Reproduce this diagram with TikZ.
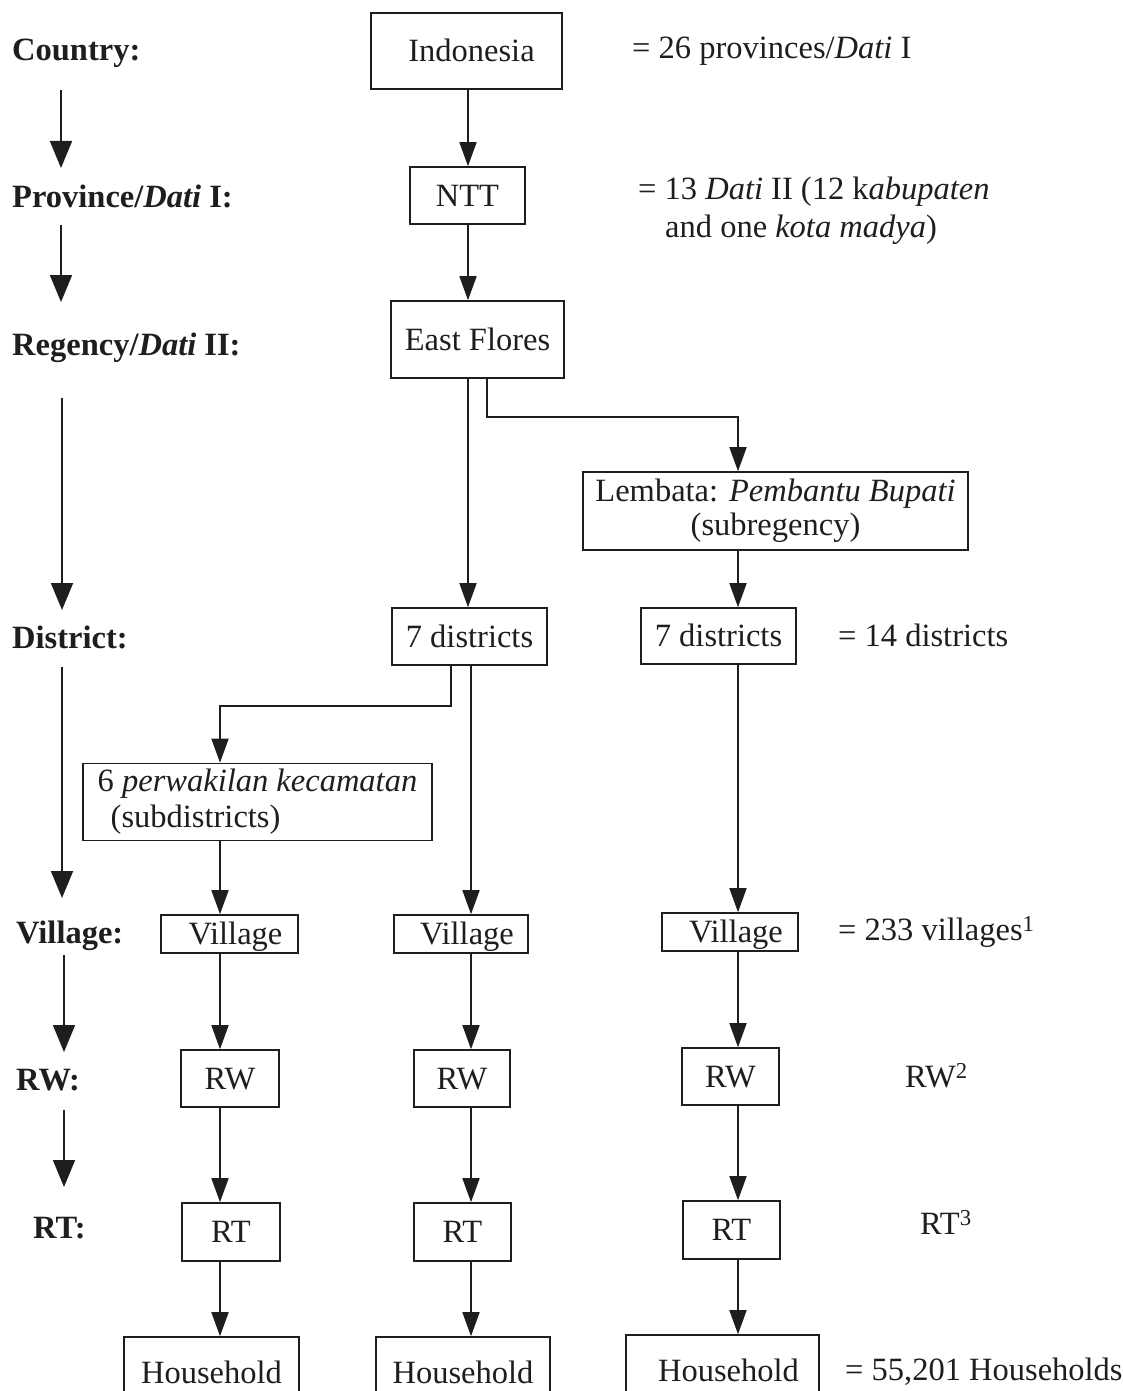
\documentclass[tikz,border=0pt]{standalone}
\usepackage{fontspec}
\setmainfont{Liberation Serif}
\usetikzlibrary{arrows.meta}
\definecolor{ink}{HTML}{1E1E1E}

\begin{document}
\begin{tikzpicture}[x=1pt,y=-1pt,
  every node/.style={font=\fontsize{32.5}{36}\selectfont, text=ink, inner sep=0pt},
  bx/.style={draw=ink, line width=1.6pt, align=center},
  one/.style={text height=25pt, text depth=4pt},
  lbl/.style={anchor=west, font=\fontsize{32.5}{36}\selectfont\bfseries, text height=25pt, text depth=4pt},
  note/.style={anchor=west, align=left, text height=25pt, text depth=4pt},
  link/.style={draw=ink, line width=1.6pt, -{Triangle[width=17pt,length=24pt]}},
  lvl/.style={draw=ink, line width=1.8pt, -{Triangle[width=22pt,length=27pt]}},
]
\clip (0,0) rectangle (1123,1391);

% ---------- level labels ----------
\node[lbl] (lc)  at (12,50)   {Country:};
\node[lbl] (lp)  at (12,197)  {Province/\textit{Dati} I:};
\node[lbl] (lr)  at (12,345)  {Regency/\textit{Dati} II:};
\node[lbl] (ld)  at (12,638)  {District:};
\node[lbl] (lv)  at (16,933)  {Village:};
\node[lbl] (lw)  at (16,1080) {RW:};
\node[lbl] (lt)  at (33,1228) {RT:};

\coordinate (a1s) at (61,90);   \coordinate (a1e) at (61,168);
\coordinate (a2s) at (61,225);  \coordinate (a2e) at (61,302);
\coordinate (a3s) at (62,398);  \coordinate (a3e) at (62,610);
\coordinate (a4s) at (62,667);  \coordinate (a4e) at (62,898);
\coordinate (a5s) at (64,955);  \coordinate (a5e) at (64,1052);
\coordinate (a6s) at (64,1110); \coordinate (a6e) at (64,1187);
\foreach \i in {1,...,6} \draw[lvl] (a\i s) -- (a\i e);

% ---------- boxes ----------
\node[bx,one,minimum width=191pt,minimum height=76pt] (ind) at (466.5,51)   {\hspace{10pt}Indonesia};
\node[bx,one,minimum width=115pt,minimum height=57pt] (ntt) at (467.5,195.5) {NTT};
\node[bx,one,minimum width=173pt,minimum height=77pt] (ef)  at (477.5,339.5) {East Flores};
\node[bx,minimum width=385pt,minimum height=78pt,font=\fontsize{32.5}{34}\selectfont] (lem) at (775.5,511)
  {Lembata: \textit{Pembantu Bupati}\\(subregency)};
\node[bx,one,minimum width=155pt,minimum height=57pt] (d1) at (469.5,636.5) {7 districts};
\node[bx,one,minimum width=155pt,minimum height=56pt] (d2) at (718.5,636)   {7 districts};
\node[bx,align=left,minimum width=349pt,minimum height=77pt,font=\fontsize{32.5}{36}\selectfont] (pk) at (257.5,802)
  {6 \textit{perwakilan kecamatan}\\\hspace{13pt}(subdistricts)\hspace{130pt}};
\node[bx,one,minimum width=137pt,minimum height=38pt] (v1) at (229.5,934) {\hspace{12pt}Village};
\node[bx,one,minimum width=134pt,minimum height=38pt] (v2) at (461,934)   {\hspace{12pt}Village};
\node[bx,one,minimum width=136pt,minimum height=38pt] (v3) at (730,932)   {\hspace{12pt}Village};
\node[bx,one,minimum width=98pt,minimum height=57pt] (rw1) at (230,1078.5)   {RW};
\node[bx,one,minimum width=96pt,minimum height=57pt] (rw2) at (462,1078.5)   {RW};
\node[bx,one,minimum width=97pt,minimum height=57pt] (rw3) at (730.5,1076.5) {RW};
\node[bx,one,minimum width=98pt,minimum height=58pt] (rt1) at (231,1232)     {RT};
\node[bx,one,minimum width=97pt,minimum height=58pt] (rt2) at (462.5,1232)   {RT};
\node[bx,one,minimum width=97pt,minimum height=58pt] (rt3) at (731.5,1230)   {RT};
\node[bx,one,minimum width=175pt,minimum height=72pt] (hh1) at (211.5,1373) {Household};
\node[bx,one,minimum width=174pt,minimum height=72pt] (hh2) at (463,1373)   {Household};
\node[bx,one,minimum width=193pt,minimum height=72pt] (hh3) at (722.5,1371) {\hspace{12pt}Household};

% ---------- notes on the right ----------
\node[note] (n1) at (632,48) {= 26 provinces/\textit{Dati} I};
\node[anchor=north west,align=left,font=\fontsize{32.5}{38}\selectfont] (n2) at (638,177)
  {= 13 \textit{Dati} II (12 k\textit{abupaten}\\\hspace{27pt}and one \textit{kota madya})};
\node[note] (n3) at (838,636)  {= 14 districts};
\node[note] (n4) at (838,930)  {= 233 villages\textsuperscript{1}};
\node[note] (n5) at (905,1077) {RW\textsuperscript{2}};
\node[note] (n6) at (920,1224) {RT\textsuperscript{3}};
\node[note] (n7) at (845,1370) {= 55,201 Households};

% ---------- connectors ----------
\coordinate (cT)  at (468,0);
\coordinate (cE)  at (487,0);
\coordinate (cR)  at (738,0);
\coordinate (cDL) at (451,0);
\coordinate (cM)  at (471,0);
\coordinate (cL)  at (220,0);

\draw[link] (ind.south -| cT) -- (ntt.north -| cT);
\draw[link] (ntt.south -| cT) -- (ef.north -| cT);
\draw[link] (ef.south -| cT) -- (d1.north -| cT);
\draw[link] (ef.south -| cE) -- ++(0,38) -| (lem.north -| cR);
\draw[link] (lem.south -| cR) -- (d2.north -| cR);
\draw[link] (d1.south -| cDL) -- ++(0,40) -| (pk.north -| cL);
\draw[link] (d1.south -| cM) -- (v2.north -| cM);
\draw[link] (d2.south -| cR) -- (v3.north -| cR);
\draw[link] (pk.south -| cL) -- (v1.north -| cL);
\foreach \n/\c in {1/cL,2/cM,3/cR}{
  \draw[link] (v\n.south -| \c) -- (rw\n.north -| \c);
  \draw[link] (rw\n.south -| \c) -- (rt\n.north -| \c);
  \draw[link] (rt\n.south -| \c) -- (hh\n.north -| \c);
}
\end{tikzpicture}
\end{document}
